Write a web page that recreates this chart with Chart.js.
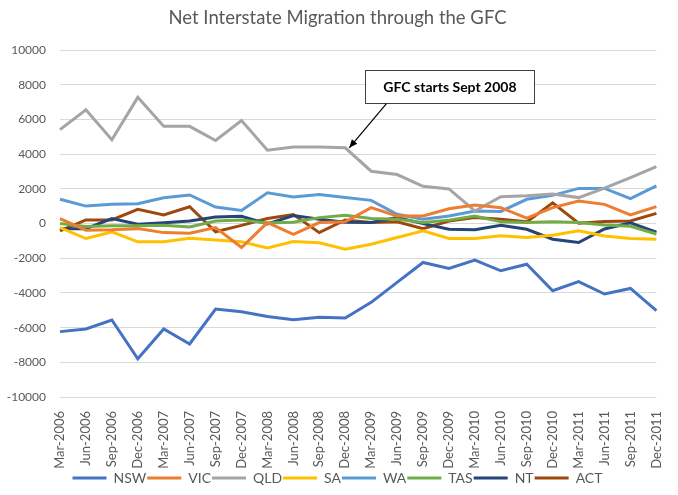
<!DOCTYPE html>
<html>
<head>
<meta charset="utf-8">
<script src="https://cdn.jsdelivr.net/npm/chart.js@4.4.1/dist/chart.umd.min.js"></script>
<style>
  html, body { margin: 0; padding: 0; background: #fff; }
  #wrap { width: 678px; height: 495px; }
</style>
</head>
<body>
<div id="wrap"><canvas id="chart" width="678" height="495"></canvas></div>
<script>
// quarterly categories
const quarters = [
    'Mar-2006', 'Jun-2006', 'Sep-2006', 'Dec-2006',
    'Mar-2007', 'Jun-2007', 'Sep-2007', 'Dec-2007',
    'Mar-2008', 'Jun-2008', 'Sep-2008', 'Dec-2008',
    'Mar-2009', 'Jun-2009', 'Sep-2009', 'Dec-2009',
    'Mar-2010', 'Jun-2010', 'Sep-2010', 'Dec-2010',
    'Mar-2011', 'Jun-2011', 'Sep-2011', 'Dec-2011'
];

// net interstate migration per state
const nsw = [-6230, -6075, -5560, -7800, -6075, -6940, -4925, -5080, -5360, -5540, -5400, -5440,
             -4540, -3390, -2240, -2590, -2110, -2720, -2340, -3870, -3350, -4060, -3740, -5020];
const vic = [290, -380, -360, -290, -520, -560, -230, -1380, 60, -615, 60, 100,
             920, 440, 440, 860, 1070, 920, 310, 920, 1300, 1110, 500, 980];
const qld = [5420, 6560, 4840, 7280, 5610, 5610, 4790, 5940, 4230, 4420, 4420, 4370,
             3020, 2830, 2150, 2000, 730, 1550, 1600, 1700, 1500, 2050, 2650, 3280];
const sa  = [-230, -860, -480, -1050, -1050, -840, -950, -1050, -1400, -1030, -1100, -1480,
             -1190, -800, -420, -860, -860, -700, -800, -670, -420, -710, -860, -900];
const wa  = [1400, 1010, 1110, 1150, 1490, 1650, 955, 760, 1780, 1530, 1680, 1500,
             1340, 540, 250, 440, 730, 700, 1400, 1630, 2030, 2030, 1440, 2170];
const tas = [0, -170, -130, -130, -100, -200, 150, 210, 30, 80, 345, 480,
             300, 250, 60, 200, 440, 100, 60, 100, 60, -80, -150, -600];
const nt  = [-290, -290, 290, -40, 50, 150, 380, 420, -20, 460, 250, 80,
             60, 350, 0, -330, -350, -100, -330, -900, -1090, -310, 40, -500];
const act = [-420, 210, 210, 820, 500, 970, -470, -100, 290, 520, -520, 210,
             60, 100, -290, 150, 345, 250, 100, 1200, 20, 115, 150, 590];

const stateNames = ['NSW', 'VIC', 'QLD', 'SA', 'WA', 'TAS', 'NT', 'ACT'];
const stateSeries = [nsw, vic, qld, sa, wa, tas, nt, act];
const stateColors = ['#4472C4', '#ED7D31', '#A5A5A5', '#FFC000', '#5B9BD5', '#70AD47', '#264478', '#9E480E'];

const yMin = -10000;
const yMax = 10000;
const yStep = 2000;

const noteText = 'GFC starts Sept 2008';
const noteIndex = 11; // Dec-2008

const FONT = 'Lato, "Open Sans", sans-serif';

// draws the callout box and arrow pointing at QLD in Dec-2008
const calloutPlugin = {
    id: 'callout',
    afterDatasetsDraw(chart) {
        const ctx = chart.ctx;
        const xs = chart.scales.x;
        const ys = chart.scales.y;

        const tipX = xs.getPixelForValue(noteIndex) + 4;
        const tipY = ys.getPixelForValue(qld[noteIndex]);

        const boxCx = xs.getPixelForValue(15) + 1;
        const boxW = 169;
        const boxTop = ys.getPixelForValue(8880);
        const boxBottom = ys.getPixelForValue(6980);
        const boxLeft = boxCx - boxW / 2;

        ctx.save();
        ctx.fillStyle = '#fff';
        ctx.fillRect(boxLeft, boxTop, boxW, boxBottom - boxTop);
        ctx.strokeStyle = '#404040';
        ctx.lineWidth = 1;
        ctx.strokeRect(Math.round(boxLeft) + 0.5, Math.round(boxTop) + 0.5, boxW, Math.round(boxBottom - boxTop));

        ctx.fillStyle = '#000';
        ctx.font = 'bold 14px ' + FONT;
        ctx.textAlign = 'center';
        ctx.textBaseline = 'middle';
        ctx.fillText(noteText, boxCx, (boxTop + boxBottom) / 2 + 1);

        // arrow
        const startX = boxLeft + 21;
        const startY = boxBottom + 1;
        ctx.strokeStyle = '#000';
        ctx.lineWidth = 1.2;
        ctx.beginPath();
        ctx.moveTo(startX, startY);
        ctx.lineTo(tipX, tipY);
        ctx.stroke();

        const ang = Math.atan2(tipY - startY, tipX - startX);
        const head = 9;
        ctx.fillStyle = '#000';
        ctx.beginPath();
        ctx.moveTo(tipX, tipY);
        ctx.lineTo(tipX - head * Math.cos(ang - 0.4), tipY - head * Math.sin(ang - 0.4));
        ctx.lineTo(tipX - head * Math.cos(ang + 0.4), tipY - head * Math.sin(ang + 0.4));
        ctx.closePath();
        ctx.fill();
        ctx.restore();
    }
};

const datasets = stateNames.map((name, i) => ({
    label: name,
    data: stateSeries[i],
    borderColor: stateColors[i],
    backgroundColor: stateColors[i],
    borderWidth: 3,
    pointRadius: 0,
    tension: 0,
    fill: false
}));

new Chart(document.getElementById('chart'), {
    type: 'line',
    data: { labels: quarters, datasets: datasets },
    plugins: [calloutPlugin],
    options: {
        responsive: false,
        animation: false,
        layout: { padding: { left: 0, right: 3, top: 0, bottom: 0 } },
        plugins: {
            title: {
                display: true,
                text: 'Net Interstate Migration through the GFC',
                color: '#595959',
                font: { family: FONT, size: 18.5, weight: 'normal' },
                padding: { top: 7, bottom: 21 }
            },
            legend: {
                position: 'bottom',
                labels: {
                    boxWidth: 34,
                    boxHeight: 0,
                    padding: 1,
                    color: '#595959',
                    font: { family: FONT, size: 14 }
                }
            },
            tooltip: { enabled: false }
        },
        scales: {
            x: {
                offset: false,
                grid: { display: false },
                border: { display: false },
                ticks: {
                    color: '#595959',
                    font: { family: FONT, size: 13 },
                    minRotation: 90,
                    maxRotation: 90,
                    autoSkip: false,
                    padding: 6
                },
                afterFit(scale) { scale.height = 73; }
            },
            y: {
                min: yMin,
                max: yMax,
                grid: { color: '#D9D9D9', lineWidth: 1, drawTicks: false },
                border: { display: false },
                ticks: {
                    stepSize: yStep,
                    color: '#595959',
                    font: { family: FONT, size: 12 },
                    padding: 14,
                    callback: v => String(v)
                },
                afterFit(scale) { scale.width = 60; }
            }
        }
    }
});
</script>
</body>
</html>
